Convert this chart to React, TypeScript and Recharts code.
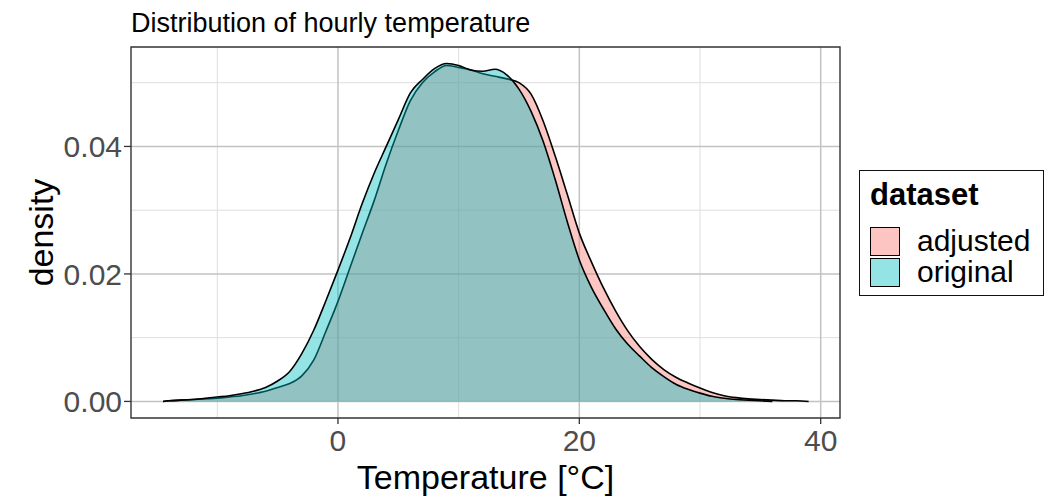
import React from 'react';
import {
  AreaChart,
  Area,
  XAxis,
  YAxis,
  CartesianGrid,
  ReferenceArea,
  Label,
} from 'recharts';

// temperature grid (°C) and estimated density values
const temps = [
  -14.5, -14, -13, -12, -11, -10, -9, -8, -7, -6, -5, -4, -3, -2, -1, 0, 1, 2, 3, 4, 5, 6, 7, 8, 9,
  10, 11, 12, 13, 14, 15, 16, 17, 18, 19, 20, 21, 22, 23, 24, 25, 26, 27, 28, 29, 30, 31, 32, 33,
  34, 35, 36, 37, 38, 39,
];

const adjusted = [
  0, 0.0001, 0.0002, 0.0003, 0.0004, 0.0005, 0.0007, 0.0009, 0.0012, 0.0016, 0.0022, 0.0028,
  0.004, 0.0065, 0.011, 0.0157, 0.021, 0.0263, 0.0315, 0.0373, 0.0425, 0.0472, 0.05, 0.0517,
  0.0527, 0.0524, 0.052, 0.0514, 0.051, 0.0506, 0.05, 0.0482, 0.044, 0.0385, 0.0325, 0.0264,
  0.0219, 0.0178, 0.0142, 0.0111, 0.0086, 0.0066, 0.005, 0.0038, 0.0029, 0.0021, 0.0014, 0.0009,
  0.0006, 0.0004, 0.0003, 0.0002, 0.0001, 0.0001, 0,
];

const original = [
  0, 0.0001, 0.0002, 0.0003, 0.0005, 0.0007, 0.0009, 0.0012, 0.0016, 0.0022, 0.0032, 0.0047,
  0.0075, 0.0112, 0.0158, 0.0206, 0.0256, 0.031, 0.0358, 0.04, 0.0442, 0.0484, 0.0505, 0.0522,
  0.053, 0.0527, 0.052, 0.0518, 0.0521, 0.0512, 0.049, 0.0455, 0.0408, 0.0348, 0.0282, 0.0222,
  0.0179, 0.0145, 0.0114, 0.009, 0.0071, 0.0053, 0.0039, 0.0027, 0.0019, 0.0013, 0.0008, 0.0005,
  0.0003, 0.0002, 0.0001, 0, null, null, null,
];

const xTicks = [0, 20, 40];
const xMinor = [-10, 10, 30];
const yTicks = [0, 0.02, 0.04];
const yMinor = [0.01, 0.03, 0.05];
const xDomain = [-17.15, 41.6];
const yDomain = [-0.0026, 0.0556];

const seriesNames = ['adjusted', 'original'];
const seriesColors = ['#F8766D', '#00BFC4'];

const FONT = '"Liberation Sans", Arial, sans-serif';
const ALPHA = 0.42;

const data = temps.map((t, i) => ({ x: t, adjusted: adjusted[i], original: original[i] }));

export default function App() {
  return (
    <div
      style={{
        position: 'absolute',
        left: 0,
        top: 0,
        width: 1045,
        height: 497,
        background: '#fff',
        fontFamily: FONT,
      }}
    >
      <div
        style={{
          position: 'absolute',
          left: 131,
          top: 8,
          fontSize: 27,
          color: '#000',
          whiteSpace: 'nowrap',
          lineHeight: '30px',
        }}
      >
        Distribution of hourly temperature
      </div>

      <AreaChart
        width={1045}
        height={497}
        data={data}
        margin={{ top: 47, right: 205, bottom: 0, left: 0 }}
        style={{ fontFamily: FONT }}
      >
        <CartesianGrid
          horizontalValues={yMinor}
          verticalValues={xMinor}
          stroke="#DEDEDE"
          strokeWidth={1}
        />
        <CartesianGrid
          horizontalValues={yTicks}
          verticalValues={xTicks}
          stroke="#C2C2C2"
          strokeWidth={1.5}
        />
        <XAxis
          dataKey="x"
          type="number"
          domain={xDomain}
          ticks={xTicks}
          allowDataOverflow
          height={79}
          axisLine={false}
          tickSize={6}
          tickMargin={6}
          tickLine={{ stroke: '#333333', strokeWidth: 1.3 }}
          tick={{ fill: '#4D4D4D', fontSize: 30, fontFamily: FONT }}
        >
          <Label
            value="Temperature [°C]"
            position="insideBottom"
            offset={8}
            style={{ fill: '#000', fontSize: 34, fontFamily: FONT }}
          />
        </XAxis>
        <YAxis
          type="number"
          domain={yDomain}
          ticks={yTicks}
          allowDataOverflow
          width={131}
          axisLine={false}
          tickSize={7}
          tickMargin={2}
          tickLine={{ stroke: '#333333', strokeWidth: 1.3 }}
          tick={{ fill: '#4D4D4D', fontSize: 30, fontFamily: FONT }}
          tickFormatter={(v: number) => v.toFixed(2)}
        >
          <Label
            content={(props: any) => {
              const vb = props.viewBox || { x: 0, y: 47, width: 131, height: 371 };
              const cx = vb.x + 53;
              const cy = vb.y + vb.height / 2;
              return (
                <text
                  x={cx}
                  y={cy}
                  transform={`rotate(-90, ${cx}, ${cy})`}
                  textAnchor="middle"
                  fill="#000"
                  fontSize={34}
                  fontFamily={FONT}
                >
                  density
                </text>
              );
            }}
          />
        </YAxis>
        <Area
          dataKey="adjusted"
          type="monotone"
          fill={seriesColors[0]}
          fillOpacity={ALPHA}
          stroke="#000"
          strokeWidth={1.6}
          isAnimationActive={false}
        />
        <Area
          dataKey="original"
          type="monotone"
          fill={seriesColors[1]}
          fillOpacity={ALPHA}
          stroke="#000"
          strokeWidth={1.6}
          isAnimationActive={false}
        />
        <ReferenceArea
          x1={xDomain[0]}
          x2={xDomain[1]}
          y1={yDomain[0]}
          y2={yDomain[1]}
          fill="none"
          stroke="#333333"
          strokeWidth={1.4}
          ifOverflow="visible"
        />
      </AreaChart>

      <div
        style={{
          position: 'absolute',
          left: 859,
          top: 170,
          width: 183,
          height: 124,
          border: '1.4px solid #111',
          boxSizing: 'content-box',
        }}
      >
        <div
          style={{
            position: 'absolute',
            left: 10,
            top: 6,
            fontSize: 31,
            fontWeight: 'bold',
            color: '#000',
            lineHeight: '36px',
          }}
        >
          dataset
        </div>
        {seriesNames.map((name, i) => (
          <div
            key={name}
            style={{
              position: 'absolute',
              left: 10,
              top: 55 + i * 31,
              height: 30,
              display: 'flex',
              alignItems: 'center',
            }}
          >
            <div
              style={{
                width: 28,
                height: 27,
                border: '1.4px solid #000',
                background: seriesColors[i],
                position: 'relative',
                overflow: 'hidden',
              }}
            >
              <div
                style={{
                  position: 'absolute',
                  inset: 0,
                  background: '#fff',
                  opacity: 1 - ALPHA,
                }}
              />
            </div>
            <div style={{ marginLeft: 17, fontSize: 30, color: '#000', lineHeight: '30px' }}>
              {name}
            </div>
          </div>
        ))}
      </div>
    </div>
  );
}
